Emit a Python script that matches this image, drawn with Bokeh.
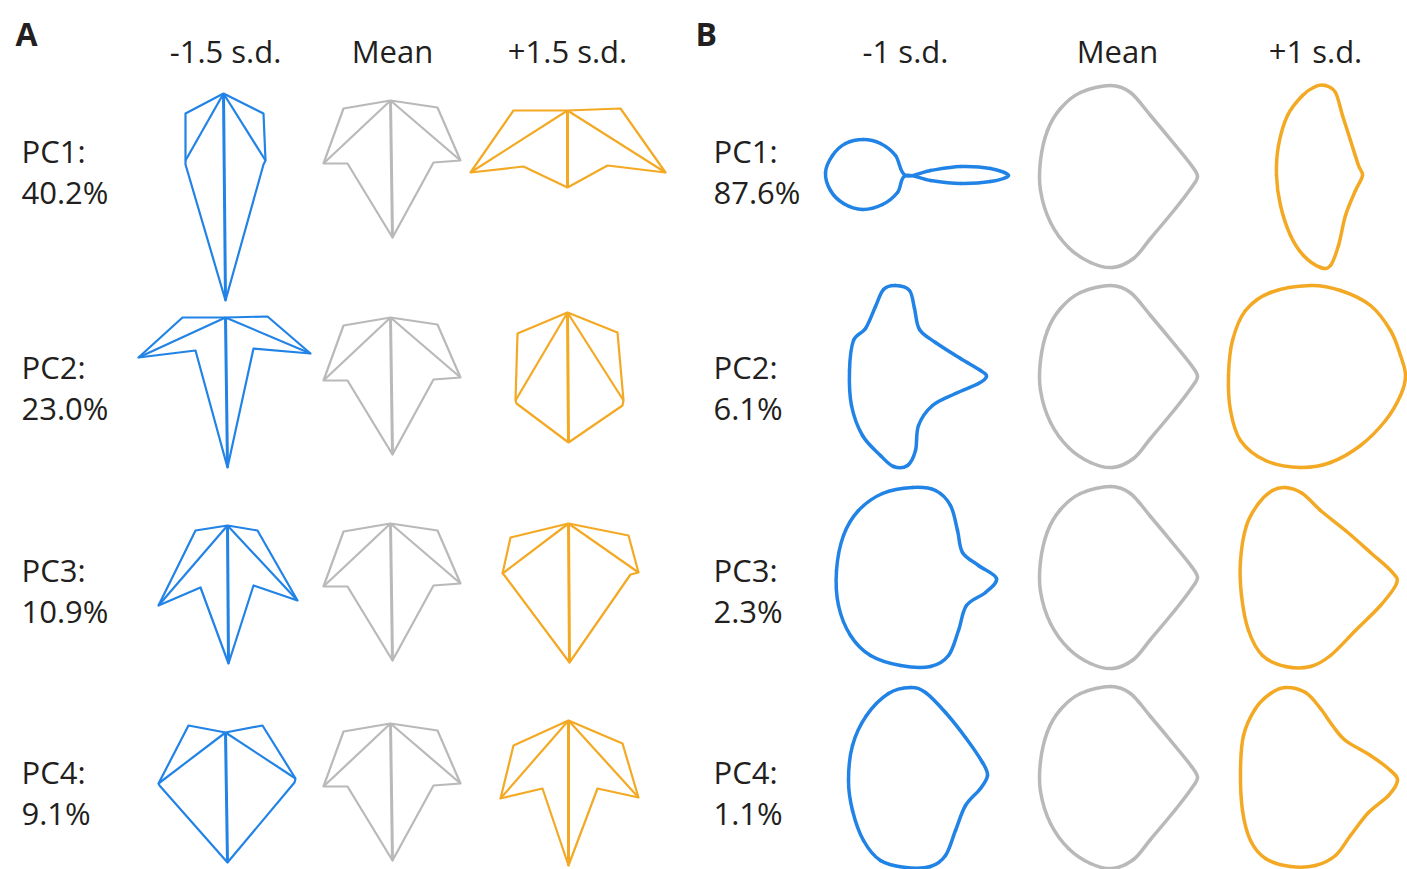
from bokeh.plotting import figure
from bokeh.models import Range1d, ColumnDataSource
from bokeh.core.properties import value
from bokeh.embed import file_html
from bokeh.resources import INLINE

# ---------------------------------------------------------------------------
# Panel A: landmark shapes.  Landmark order:
# base, upper-right, right lobe tip, right sinus, tip, left sinus, left lobe tip, upper-left
# Coordinates are in drawing units relative to each cell anchor (y grows downward).
# ---------------------------------------------------------------------------
lm_mean_x = [-2, 45, 68, 41, 0, -45, -69, -49]
lm_mean_y = [0, 7, 60, 62, 137, 63, 63, 8]

lm_neg_x = {
    "PC1": [-2, 38, 40, 38, 0, -40, -40, -40],
    "PC2": [0, 42, 85, 28, 2, -30, -87, -43],
    "PC3": [2, 32, 72, 28, 3, -25, -67, -30],
    "PC4": [0, 37, 70, 69, 2, -66, -67, -37],
}
lm_neg_y = {
    "PC1": [-7, 13, 60, 64, 200, 64, 60, 13],
    "PC2": [0, -1, 36, 31, 150, 33, 40, 0],
    "PC3": [2, 7, 77, 62, 140, 64, 82, 7],
    "PC4": [9, 2, 55, 59, 139, 62, 60, 2],
}
lm_pos_x = {
    "PC1": [0, 53, 98, 40, 0, -44, -97, -54],
    "PC2": [0, 50, 56, 55, 1, -51, -52, -50],
    "PC3": [1, 61, 71, 63, 2, -63, -65, -57],
    "PC4": [1, 55, 71, 30, 1, -25, -67, -54],
}
lm_pos_y = {
    "PC1": [10, 8, 72, 65, 87, 66, 72, 10],
    "PC2": [-5, 15, 83, 88, 125, 86, 83, 16],
    "PC3": [0, 12, 49, 51, 139, 52, 50, 14],
    "PC4": [-3, 20, 74, 65, 142, 65, 75, 22],
}

pcs = ["PC1", "PC2", "PC3", "PC4"]
var_a = ["40.2%", "23.0%", "10.9%", "9.1%"]
var_b = ["87.6%", "6.1%", "2.3%", "1.1%"]
heads_a = ["-1.5 s.d.", "Mean", "+1.5 s.d."]
heads_b = ["-1 s.d.", "Mean", "+1 s.d."]

# ---------------------------------------------------------------------------
# Panel B: outline points (closed curves), relative to each cell centre.
# ---------------------------------------------------------------------------
ef_mean = [(-7, -91), (13, -84), (33, -61), (58, -31), (74, -11), (80, 0), (74, 11),
           (58, 32), (33, 62), (16, 82), (-5, 91), (-27, 86), (-49, 71), (-67, 46),
           (-77, 14), (-77, -16), (-70, -46), (-57, -68), (-37, -84)]

ef_neg = {
    "PC1": [(0, -1), (25, -6), (55, -10), (85, -8), (103, -1), (85, 5), (55, 7), (25, 4),
            (0, -1), (-8, 16), (-23, 28), (-43, 33), (-62, 27), (-75, 14), (-80, -4),
            (-73, -21), (-60, -33), (-42, -37), (-25, -33), (-10, -21)],
    "PC2": [(-10, -91), (4, -86), (9, -68), (14, -47), (30, -34), (55, -18), (75, -6),
            (81, 0), (73, 7), (50, 17), (27, 29), (13, 49), (10, 74), (2, 89), (-12, 90),
            (-25, 79), (-43, 59), (-54, 29), (-56, -6), (-52, -36), (-40, -48),
            (-30, -70), (-22, -87)],
    "PC3": [(7, -90), (30, -87), (45, -72), (52, -47), (57, -25), (73, -12), (91, 1),
            (80, 15), (61, 28), (53, 53), (43, 78), (25, 89), (-5, 88), (-35, 78),
            (-55, 58), (-67, 28), (-69, -7), (-62, -42), (-47, -67), (-23, -84)],
    "PC4": [(5, -90), (20, -85), (40, -65), (60, -40), (77, -15), (82, -2), (75, 11),
            (60, 28), (50, 53), (40, 78), (25, 89), (0, 90), (-25, 83), (-42, 63),
            (-53, 33), (-57, 3), (-53, -32), (-39, -62), (-17, -84)],
}
ef_pos = {
    "PC1": [(10, -91), (20, -84), (27, -61), (35, -36), (43, -11), (47, -1), (40, 14),
            (30, 39), (23, 69), (15, 89), (5, 91), (-12, 79), (-25, 59), (-35, 29),
            (-39, -1), (-37, -31), (-28, -61), (-13, -81), (0, -90)],
    "PC2": [(-5, -91), (25, -86), (55, -71), (75, -46), (85, -21), (90, -1), (85, 19),
            (70, 44), (45, 69), (15, 86), (-15, 91), (-50, 84), (-75, 64), (-85, 34),
            (-87, -1), (-83, -36), (-70, -66), (-45, -84)],
    "PC3": [(-30, -90), (-13, -84), (5, -67), (30, -47), (55, -25), (77, -5), (81, 6),
            (65, 28), (40, 53), (15, 78), (-5, 89), (-30, 89), (-53, 78), (-67, 53),
            (-74, 18), (-75, -17), (-69, -52), (-57, -74), (-43, -87)],
    "PC4": [(-30, -90), (-10, -85), (5, -69), (17, -52), (30, -37), (55, -22), (75, -7),
            (82, 3), (73, 18), (53, 35), (35, 58), (20, 78), (0, 88), (-25, 89),
            (-50, 81), (-65, 63), (-73, 33), (-75, -7), (-72, -42), (-60, -69),
            (-45, -84)],
}

# ---------------------------------------------------------------------------
# Layout and style
# ---------------------------------------------------------------------------
BLUE = "#2283E6"
GRAY = "#B9B9B9"
ORANGE = "#F3A923"
TEXT = "#231F20"
FONT = value("Open Sans")
FS = "31px"

col_a = [225, 392, 567]
row_a = [100, 317, 523, 723]
col_b = [905, 1117, 1315]
row_b = [176, 376, 577, 777]
label_rows = [150, 366, 569, 771]

p = figure(width=1407, height=869, x_range=Range1d(0, 1407), y_range=Range1d(869, 0),
           output_backend="svg", toolbar_location=None, min_border=0,
           x_axis_location=None, y_axis_location=None)
p.grid.visible = False
p.outline_line_color = None
p.background_fill_color = "white"
p.border_fill_color = "white"


def draw_landmarks(xs, ys, cx, cy, color):
    ox = [cx + v for v in xs]
    oy = [cy + v for v in ys]
    p.patch(ox + [ox[0]], oy + [oy[0]], fill_color=None, line_color=color,
            line_width=2.2, line_join="round")
    # veins from the base to the lobe tips and leaf tip
    p.multi_line([[ox[0], ox[2]], [ox[0], ox[6]]], [[oy[0], oy[2]], [oy[0], oy[6]]],
                 line_color=color, line_width=2.2)
    p.line([ox[0], ox[4]], [oy[0], oy[4]], line_color=color, line_width=3)


def draw_outline(pts, cx, cy, color):
    n = len(pts)
    P = [(cx + a, cy + b) for a, b in pts]
    x0, y0, x1, y1, cx0, cy0, cx1, cy1 = [], [], [], [], [], [], [], []
    for i in range(n):
        pm, p0, p1, p2 = P[i - 1], P[i], P[(i + 1) % n], P[(i + 2) % n]
        x0.append(p0[0]); y0.append(p0[1])
        x1.append(p1[0]); y1.append(p1[1])
        cx0.append(p0[0] + (p1[0] - pm[0]) / 6.0)
        cy0.append(p0[1] + (p1[1] - pm[1]) / 6.0)
        cx1.append(p1[0] - (p2[0] - p0[0]) / 6.0)
        cy1.append(p1[1] - (p2[1] - p0[1]) / 6.0)
    src = ColumnDataSource(dict(x0=x0, y0=y0, x1=x1, y1=y1,
                                cx0=cx0, cy0=cy0, cx1=cx1, cy1=cy1))
    p.bezier(x0="x0", y0="y0", x1="x1", y1="y1", cx0="cx0", cy0="cy0",
             cx1="cx1", cy1="cy1", source=src, line_color=color, line_width=3.5,
             line_cap="round")


for r, pc in enumerate(pcs):
    draw_landmarks(lm_neg_x[pc], lm_neg_y[pc], col_a[0], row_a[r], BLUE)
    draw_landmarks(lm_mean_x, lm_mean_y, col_a[1], row_a[r], GRAY)
    draw_landmarks(lm_pos_x[pc], lm_pos_y[pc], col_a[2], row_a[r], ORANGE)
    draw_outline(ef_neg[pc], col_b[0], row_b[r], BLUE)
    draw_outline(ef_mean, col_b[1], row_b[r], GRAY)
    draw_outline(ef_pos[pc], col_b[2], row_b[r], ORANGE)

# panel letters
p.text([15, 695], [33, 33], text=["A", "B"], text_font=FONT,
       text_font_style="bold", text_font_size="32px", text_color=TEXT,
       text_baseline="middle", text_align="left")

# column headers
p.text(col_a + col_b, [50] * 6, text=heads_a + heads_b, text_font=FONT,
       text_font_size=FS, text_color=TEXT, text_baseline="middle",
       text_align="center")

# row labels
lab_x, lab_y, lab_t = [], [], []
for r, pc in enumerate(pcs):
    for x0, v in ((21, var_a[r]), (713, var_b[r])):
        lab_x += [x0, x0]
        lab_y += [label_rows[r], label_rows[r] + 41]
        lab_t += [pc + ":", v]
p.text(lab_x, lab_y, text=lab_t, text_font=FONT, text_font_size=FS,
       text_color=TEXT, text_baseline="middle", text_align="left")

open("out.html", "w").write(file_html(p, INLINE))
